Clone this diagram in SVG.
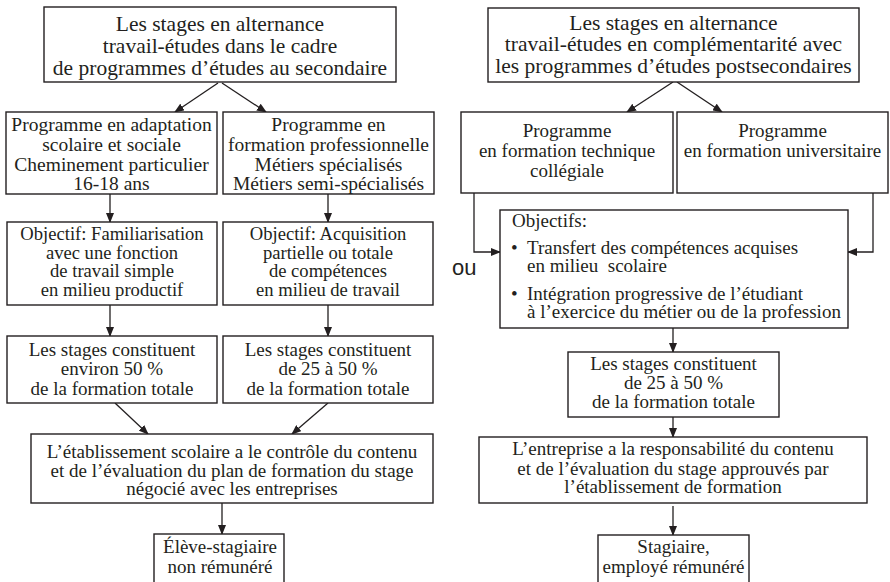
<svg xmlns="http://www.w3.org/2000/svg" width="890" height="582" viewBox="0 0 890 582">
<defs>
<marker id="ah" markerWidth="10" markerHeight="8" refX="9" refY="4" orient="auto" markerUnits="userSpaceOnUse">
<path d="M0,0 L10,4 L0,8 Z" fill="#231f20"/>
</marker>
<style>
.box{fill:#fff;stroke:#231f20;stroke-width:1.4}
.t{font-family:"Liberation Serif","Times New Roman",serif;fill:#231f20;text-anchor:middle}
.tl{font-family:"Liberation Serif","Times New Roman",serif;fill:#231f20;font-size:19px}
.big{font-size:21.5px}
.mid{font-size:19.5px}
.sm{font-size:18.6px}
.n{font-size:19px}
.c{fill:none;stroke:#231f20;stroke-width:1.3;marker-end:url(#ah)}
</style>
</defs>
<rect width="890" height="582" fill="#fff"/>

<g id="connectors">
<line class="c" x1="218" y1="83" x2="175" y2="112"/>
<line class="c" x1="222" y1="83" x2="266" y2="112"/>
<line class="c" x1="110" y1="194" x2="110" y2="222"/>
<line class="c" x1="328" y1="194" x2="328" y2="222"/>
<line class="c" x1="110" y1="305" x2="110" y2="336"/>
<line class="c" x1="328" y1="305" x2="328" y2="336"/>
<line class="c" x1="115" y1="403" x2="148" y2="434"/>
<line class="c" x1="328" y1="403" x2="292" y2="434"/>
<line class="c" x1="222" y1="503" x2="222" y2="534"/>
<line class="c" x1="673" y1="82" x2="627" y2="112"/>
<line class="c" x1="677" y1="82" x2="722" y2="112"/>
<polyline class="c" points="474,193 474,252 500,252"/>
<polyline class="c" points="873,193 873,252 848,252"/>
<line class="c" x1="673" y1="328" x2="673" y2="352"/>
<line class="c" x1="673" y1="417" x2="673" y2="437"/>
<line class="c" x1="673" y1="506" x2="673" y2="535"/>
</g>

<g id="n_top_left">
<rect class="box" x="44" y="7" width="352" height="75"/>
<text class="t big" x="220" y="31">Les stages en alternance</text>
<text class="t big" x="220" y="53">travail-études dans le cadre</text>
<text class="t big" x="220" y="75">de programmes d’études au secondaire</text>
</g>
<g id="n_adapt">
<rect class="box" x="6" y="112" width="211" height="82"/>
<text class="t mid" x="111.5" y="131">Programme en adaptation</text>
<text class="t mid" x="111.5" y="151">scolaire et sociale</text>
<text class="t mid" x="111.5" y="171">Cheminement particulier</text>
<text class="t mid" x="111.5" y="190">16-18 ans</text>
</g>
<g id="n_prof">
<rect class="box" x="223" y="112" width="211" height="82"/>
<text class="t mid" x="328.5" y="131">Programme en</text>
<text class="t mid" x="328.5" y="151">formation professionnelle</text>
<text class="t mid" x="328.5" y="171">Métiers spécialisés</text>
<text class="t mid" x="328.5" y="190">Métiers semi-spécialisés</text>
</g>
<g id="n_obj_left">
<rect class="box" x="7" y="222" width="210" height="83"/>
<text class="t sm" x="112" y="240">Objectif: Familiarisation</text>
<text class="t sm" x="112" y="259">avec une fonction</text>
<text class="t sm" x="112" y="277">de travail simple</text>
<text class="t sm" x="112" y="296">en milieu productif</text>
</g>
<g id="n_obj_right">
<rect class="box" x="223" y="222" width="210" height="83"/>
<text class="t sm" x="328" y="240">Objectif: Acquisition</text>
<text class="t sm" x="328" y="259">partielle ou totale</text>
<text class="t sm" x="328" y="277">de compétences</text>
<text class="t sm" x="328" y="296">en milieu de travail</text>
</g>
<g id="n_stage_left">
<rect class="box" x="7" y="336" width="210" height="67"/>
<text class="t n" x="112" y="356">Les stages constituent</text>
<text class="t n" x="112" y="375">environ 50 %</text>
<text class="t n" x="112" y="395">de la formation totale</text>
</g>
<g id="n_stage_right">
<rect class="box" x="223" y="336" width="210" height="67"/>
<text class="t n" x="328" y="356">Les stages constituent</text>
<text class="t n" x="328" y="375">de 25 à 50 %</text>
<text class="t n" x="328" y="395">de la formation totale</text>
</g>
<g id="n_etab">
<rect class="box" x="31" y="434" width="402" height="69"/>
<text class="t n" x="232" y="458">L’établissement scolaire a le contrôle du contenu</text>
<text class="t n" x="232" y="477">et de l’évaluation du plan de formation du stage</text>
<text class="t n" x="232" y="495">négocié avec les entreprises</text>
</g>
<g id="n_eleve">
<rect class="box" x="154" y="534" width="130" height="56"/>
<text class="t n" x="220" y="553">Élève-stagiaire</text>
<text class="t n" x="220" y="573">non rémunéré</text>
</g>

<g id="n_top_right">
<rect class="box" x="488" y="8" width="371" height="74"/>
<text class="t big" x="673.5" y="30">Les stages en alternance</text>
<text class="t big" x="673.5" y="51">travail-études en complémentarité avec</text>
<text class="t big" x="673.5" y="73">les programmes d’études postsecondaires</text>
</g>
<g id="n_tech">
<rect class="box" x="461" y="112" width="212" height="81"/>
<text class="t n" x="567" y="137">Programme</text>
<text class="t n" x="567" y="157">en formation technique</text>
<text class="t n" x="567" y="177">collégiale</text>
</g>
<g id="n_univ">
<rect class="box" x="677" y="112" width="211" height="81"/>
<text class="t n" x="782.5" y="137">Programme</text>
<text class="t n" x="782.5" y="157">en formation universitaire</text>
</g>
<g id="n_objectifs">
<rect class="box" x="500" y="210" width="348" height="118"/>
<text class="tl" x="512" y="227">Objectifs:</text>
<text class="tl" x="511" y="254">•</text>
<text class="tl" x="527" y="254">Transfert des compétences acquises</text>
<text class="tl" x="527" y="272" xml:space="preserve">en milieu  scolaire</text>
<text class="tl" x="511" y="300">•</text>
<text class="tl" x="527" y="300">Intégration progressive de l’étudiant</text>
<text class="tl" x="527" y="318">à l’exercice du métier ou de la profession</text>
</g>
<g id="n_ou">
<text x="452" y="275" font-family="'Liberation Sans',Arial,sans-serif" font-size="22" fill="#231f20">ou</text>
</g>
<g id="n_stage_post">
<rect class="box" x="568" y="352" width="211" height="65"/>
<text class="t n" x="673.5" y="370">Les stages constituent</text>
<text class="t n" x="673.5" y="389">de 25 à 50 %</text>
<text class="t n" x="673.5" y="408">de la formation totale</text>
</g>
<g id="n_entreprise">
<rect class="box" x="479" y="437" width="388" height="66"/>
<text class="t n" x="673" y="455">L’entreprise a la responsabilité du contenu</text>
<text class="t n" x="673" y="475">et de l’évaluation du stage approuvés par</text>
<text class="t n" x="673" y="493">l’établissement de formation</text>
</g>
<g id="n_stagiaire">
<rect class="box" x="598" y="535" width="151" height="55"/>
<text class="t n" x="673.5" y="553">Stagiaire,</text>
<text class="t n" x="673.5" y="573">employé rémunéré</text>
</g>
</svg>
